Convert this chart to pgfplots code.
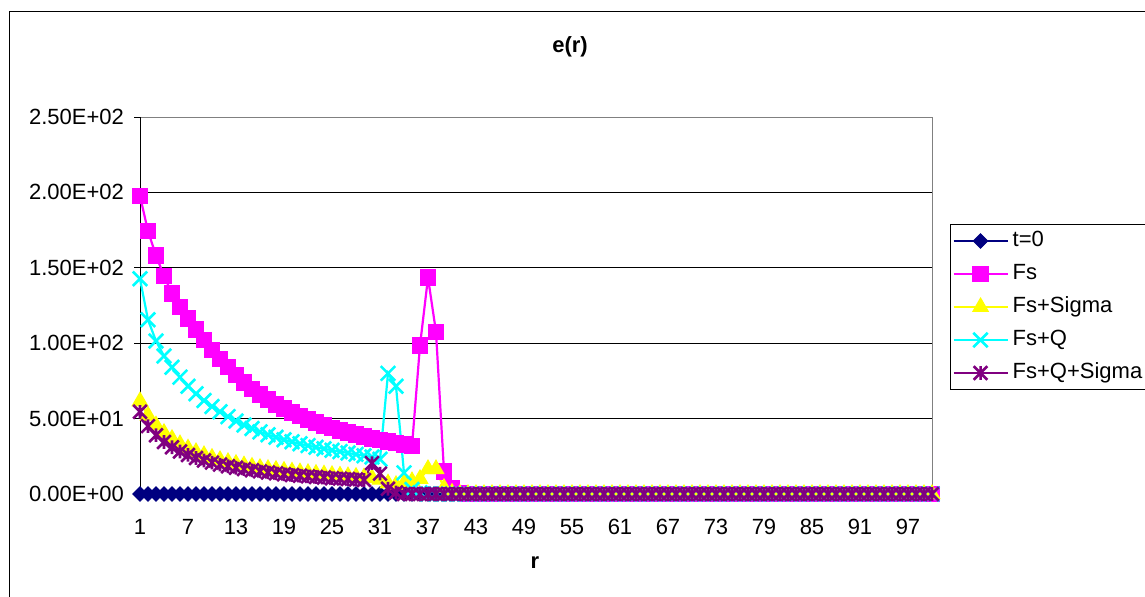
\documentclass[border=0pt]{standalone}
\usepackage{fontspec}
\setmainfont{Liberation Sans}
\usepackage{pgfplots}
\pgfplotsset{compat=1.18}
\usepackage{pgfplotstable}

\definecolor{navyc}{HTML}{000080}
\definecolor{magc}{HTML}{FF00FF}
\definecolor{yelc}{HTML}{FFFF00}
\definecolor{cyac}{HTML}{00FFFF}
\definecolor{purc}{HTML}{800080}
\definecolor{bordgray}{HTML}{808080}

\pgfdeclareplotmark{sqdiamond}{%
  \pgfpathmoveto{\pgfqpoint{0pt}{\pgfplotmarksize}}%
  \pgfpathlineto{\pgfqpoint{\pgfplotmarksize}{0pt}}%
  \pgfpathlineto{\pgfqpoint{0pt}{-\pgfplotmarksize}}%
  \pgfpathlineto{\pgfqpoint{-\pgfplotmarksize}{0pt}}%
  \pgfpathclose\pgfusepathqfillstroke}
\pgfdeclareplotmark{xcross}{%
  \pgfpathmoveto{\pgfqpoint{-\pgfplotmarksize}{-\pgfplotmarksize}}%
  \pgfpathlineto{\pgfqpoint{\pgfplotmarksize}{\pgfplotmarksize}}%
  \pgfpathmoveto{\pgfqpoint{-\pgfplotmarksize}{\pgfplotmarksize}}%
  \pgfpathlineto{\pgfqpoint{\pgfplotmarksize}{-\pgfplotmarksize}}%
  \pgfusepathqstroke}
\pgfdeclareplotmark{xstar}{%
  \pgfpathmoveto{\pgfqpoint{-\pgfplotmarksize}{-\pgfplotmarksize}}%
  \pgfpathlineto{\pgfqpoint{\pgfplotmarksize}{\pgfplotmarksize}}%
  \pgfpathmoveto{\pgfqpoint{-\pgfplotmarksize}{\pgfplotmarksize}}%
  \pgfpathlineto{\pgfqpoint{\pgfplotmarksize}{-\pgfplotmarksize}}%
  \pgfpathmoveto{\pgfqpoint{0pt}{-\pgfplotmarksize}}%
  \pgfpathlineto{\pgfqpoint{0pt}{\pgfplotmarksize}}%
  \pgfusepathqstroke}

\pgfplotstableread{
r t0 Fs FsS FsQ FsQS
1 0 197.6 61.5 142.7 54.5
2 0 174.3 52.0 115.5 45.0
3 0 158.2 45.5 101.5 39.0
4 0 144.5 40.5 91.5 34.5
5 0 133.0 36.5 84.0 31.0
6 0 124.0 33.0 77.5 28.2
7 0 116.2 30.2 71.5 25.9
8 0 109.1 27.8 66.5 23.9
9 0 102.0 25.8 62.0 22.2
10 0 95.5 24.0 58.0 20.8
11 0 89.6 22.5 54.5 19.5
12 0 84.1 21.2 51.3 18.4
13 0 79.0 20.0 48.4 17.4
14 0 74.1 19.0 45.8 16.5
15 0 69.7 18.1 43.4 15.7
16 0 66.0 17.3 41.2 15.0
17 0 62.6 16.6 39.3 14.3
18 0 59.5 16.0 37.6 13.7
19 0 56.7 15.4 36.0 13.1
20 0 54.1 14.9 34.6 12.6
21 0 51.7 14.4 33.3 12.1
22 0 49.5 13.9 32.1 11.7
23 0 47.5 13.4 31.0 11.3
24 0 45.6 13.0 30.0 10.9
25 0 43.9 12.6 29.0 10.5
26 0 42.3 12.2 28.1 10.2
27 0 40.8 11.8 27.2 9.9
28 0 39.4 11.4 26.3 9.6
29 0 38.1 11.0 25.4 9.3
30 0 36.9 10.6 24.5 20.5
31 0 35.8 9.5 23.0 13.5
32 0 34.7 7.0 80.0 3.5
33 0 33.7 6.0 71.5 1.0
34 0 32.7 7.0 14.0 0
35 0 31.8 8.5 3.0 0
36 0 98.5 10.0 0.8 0
37 0 143.5 16.5 0 0
38 0 107.5 16.5 0 0
39 0 15.0 4.0 0 0
40 0 3.5 0.8 0 0
41 0 0.8 0 0 0
42 0 0 0 0 0
43 0 0 0 0 0
44 0 0 0 0 0
45 0 0 0 0 0
46 0 0 0 0 0
47 0 0 0 0 0
48 0 0 0 0 0
49 0 0 0 0 0
50 0 0 0 0 0
51 0 0 0 0 0
52 0 0 0 0 0
53 0 0 0 0 0
54 0 0 0 0 0
55 0 0 0 0 0
56 0 0 0 0 0
57 0 0 0 0 0
58 0 0 0 0 0
59 0 0 0 0 0
60 0 0 0 0 0
61 0 0 0 0 0
62 0 0 0 0 0
63 0 0 0 0 0
64 0 0 0 0 0
65 0 0 0 0 0
66 0 0 0 0 0
67 0 0 0 0 0
68 0 0 0 0 0
69 0 0 0 0 0
70 0 0 0 0 0
71 0 0 0 0 0
72 0 0 0 0 0
73 0 0 0 0 0
74 0 0 0 0 0
75 0 0 0 0 0
76 0 0 0 0 0
77 0 0 0 0 0
78 0 0 0 0 0
79 0 0 0 0 0
80 0 0 0 0 0
81 0 0 0 0 0
82 0 0 0 0 0
83 0 0 0 0 0
84 0 0 0 0 0
85 0 0 0 0 0
86 0 0 0 0 0
87 0 0 0 0 0
88 0 0 0 0 0
89 0 0 0 0 0
90 0 0 0 0 0
91 0 0 0 0 0
92 0 0 0 0 0
93 0 0 0 0 0
94 0 0 0 0 0
95 0 0 0 0 0
96 0 0 0 0 0
97 0 0 0 0 0
98 0 0 0 0 0
99 0 0 0 0 0
100 0 0 0 0 0
}\datatab

\begin{document}
\begin{tikzpicture}
\useasboundingbox (0pt,0pt) rectangle (572.5pt,298pt);
\draw[black, line width=0.5pt] (4.75pt,-20pt) rectangle (600pt,292pt);
\node[font=\bfseries\fontsize{11}{13}\selectfont] at (285pt,274.5pt) {e(r)};
\node[font=\bfseries\fontsize{11}{13}\selectfont] at (267.5pt,16.5pt) {r};
\begin{axis}[
  at={(70pt,51pt)}, anchor=south west,
  width=396pt, height=188.5pt, scale only axis,
  xmin=1, xmax=100, ymin=0, ymax=250,
  xtick={1,7,13,19,25,31,37,43,49,55,61,67,73,79,85,91,97},
  xticklabels={1,7,13,19,25,31,37,43,49,55,61,67,73,79,85,91,97},
  ytick={0,50,100,150,200,250},
  yticklabels={0.00E+00,5.00E+01,1.00E+02,1.50E+02,2.00E+02,2.50E+02},
  ymajorgrids, grid style={black, line width=0.5pt},
  axis line style={bordgray, line width=0.5pt},
  tick pos=left,
  tick align=outside, major tick length=3pt,
  tick style={black, line width=0.5pt},
  xtick style={draw=none},
  ticklabel style={font=\fontsize{11}{13}\selectfont},
  xticklabel style={yshift=-6pt},
  yticklabel style={xshift=-1.5pt},
  clip=false,
  legend style={at={(1.0227,0.7162)}, anchor=north west, draw=black,
    line width=0.5pt, fill=white, font=\fontsize{11}{13}\selectfont,
    inner sep=1pt, row sep=2pt,
    nodes={inner sep=2pt, text height=8pt, text depth=2.5pt}},
  legend cell align=left,
  legend image code/.code={\draw[mark repeat=2,mark phase=2] plot coordinates {(0pt,0pt)(13.5pt,0pt)(27pt,0pt)};},
]
\draw[black, line width=0.5pt] (rel axis cs:0,0) -- (rel axis cs:0,1);
\draw[black, line width=0.5pt] (rel axis cs:0,0) -- (rel axis cs:1,0);
\addplot[navyc, line width=1.1pt, mark=sqdiamond, mark size=3.6pt,
  mark options={solid, fill=navyc, draw=navyc, line width=0.5pt}]
  table[x=r, y=t0]{\datatab};
\addlegendentry{t=0}
\addplot[magc, line width=1.1pt, mark=square*, mark size=3.9pt,
  mark options={solid, fill=magc, draw=magc, line width=0.5pt}]
  table[x=r, y=Fs]{\datatab};
\addlegendentry{Fs}
\addplot[yelc, line width=1.1pt, mark=triangle*, mark size=4.5pt,
  mark options={solid, fill=yelc, draw=yelc, line width=0.5pt}]
  table[x=r, y=FsS]{\datatab};
\addlegendentry{Fs+Sigma}
\addplot[cyac, line width=1.1pt, mark=xcross, mark size=3.6pt,
  mark options={solid, draw=cyac, line width=1.3pt}]
  table[x=r, y=FsQ]{\datatab};
\addlegendentry{Fs+Q}
\addplot[purc, line width=1.1pt, mark=xstar, mark size=3.4pt,
  mark options={solid, draw=purc, line width=1.3pt}]
  table[x=r, y=FsQS]{\datatab};
\addlegendentry{Fs+Q+Sigma}
\end{axis}
\end{tikzpicture}
\end{document}
